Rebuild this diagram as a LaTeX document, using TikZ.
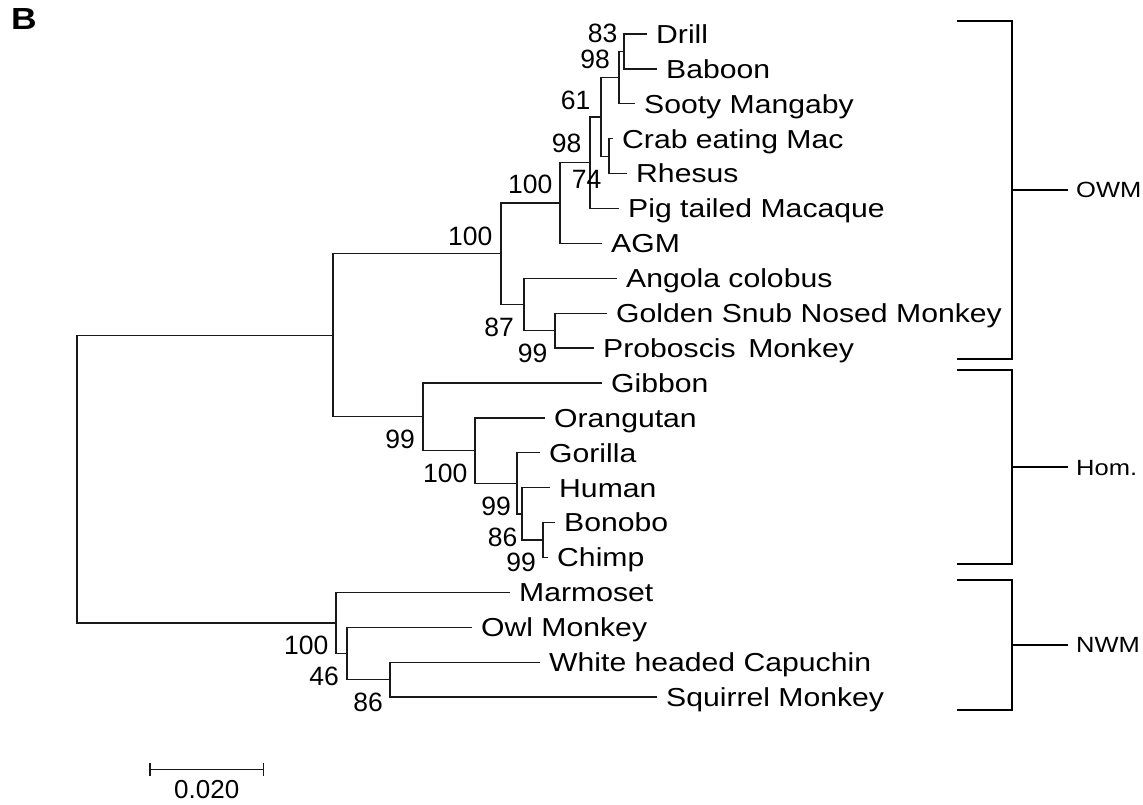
\documentclass[tikz,border=0pt]{standalone}
\usepackage{fontspec}
\setmainfont{Liberation Sans}
\newfontfamily\widefont{Liberation Sans}[FakeStretch=1.16]
\begin{document}
\begin{tikzpicture}[x=1pt,y=-1pt,
  branch/.style={line width=1.3pt, draw=black!90},
  brace/.style={line width=2.2pt, draw=black},
  taxon/.style={anchor=west, inner xsep=9pt, inner ysep=0pt, text height=18.6pt, text depth=0pt,
    font=\widefont\fontsize{26}{30}\selectfont},
  boot/.style={anchor=base east, inner sep=0pt, font=\fontsize{26.5}{30}\selectfont},
  group/.style={anchor=west, inner xsep=8pt, inner ysep=0pt, text height=15.8pt, text depth=0pt,
    font=\widefont\fontsize{22}{26}\selectfont}]
\useasboundingbox (0,0) rectangle (1143,804);

% panel letter
\node[anchor=base west, inner sep=0pt, font=\widefont\bfseries\fontsize{30.5}{32}\selectfont] (panel) at (11,29.3) {B};

% leaves (west anchor = branch tip)
\node[taxon] (drill)  at (647,34.0)  {Drill};
\node[taxon] (baboon) at (657,68.9)  {Baboon};
\node[taxon] (sooty)  at (635,103.8) {Sooty Mangaby};
\node[taxon] (crab)   at (613,138.7) {Crab eating Mac};
\node[taxon] (rhesus) at (627,173.6) {Rhesus};
\node[taxon] (pig)    at (619,208.5) {Pig tailed Macaque};
\node[taxon] (agm)    at (602,243.4) {AGM};
\node[taxon] (angola) at (617,278.3) {Angola colobus};
\node[taxon] (golden) at (607,313.2) {Golden Snub Nosed Monkey};
\node[taxon] (probos) at (594,348.1) {Proboscis\, Monkey};
\node[taxon] (gibbon) at (602,383.0) {Gibbon};
\node[taxon] (orang)  at (545,417.9) {Orangutan};
\node[taxon] (gorilla)at (540,452.8) {Gorilla};
\node[taxon] (human)  at (550,487.7) {Human};
\node[taxon] (bonobo) at (555,522.6) {Bonobo};
\node[taxon] (chimp)  at (548,557.5) {Chimp};
\node[taxon] (marmo)  at (510,592.4) {Marmoset};
\node[taxon] (owl)    at (472,627.3) {Owl Monkey};
\node[taxon] (capu)   at (540,662.2) {White headed Capuchin};
\node[taxon] (squir)  at (657,697.1) {Squirrel Monkey};

% internal nodes
\coordinate (n83)   at (624,51.5);
\coordinate (n98a)  at (619,77.6);
\coordinate (n74)   at (609,156.2);
\coordinate (n61)   at (601,116.9);
\coordinate (n98b)  at (590,162.7);
\coordinate (n100a) at (560,203.0);
\coordinate (n99c)  at (555,330.7);
\coordinate (n87)   at (524,304.5);
\coordinate (n100b) at (501,253.8);
\coordinate (nbc)   at (543,540.0);
\coordinate (n86h)  at (522,513.9);
\coordinate (n99e)  at (517,483.3);
\coordinate (n100h) at (475,450.6);
\coordinate (n99h)  at (423,416.8);
\coordinate (nOH)   at (333,335.3);
\coordinate (n86n)  at (390,679.6);
\coordinate (n46)   at (347,653.5);
\coordinate (n100n) at (336,623.0);
\coordinate (root)  at (77,479.1);

% branches
\draw[branch] (n83) |- (drill.west);
\draw[branch] (n83) |- (baboon.west);
\draw[branch] (n98a) |- (n83);
\draw[branch] (n98a) |- (sooty.west);
\draw[branch] (n74) |- (crab.west);
\draw[branch] (n74) |- (rhesus.west);
\draw[branch] (n61) |- (n98a);
\draw[branch] (n61) |- (n74);
\draw[branch] (n98b) |- (n61);
\draw[branch] (n98b) |- (pig.west);
\draw[branch] (n100a) |- (n98b);
\draw[branch] (n100a) |- (agm.west);
\draw[branch] (n99c) |- (golden.west);
\draw[branch] (n99c) |- (probos.west);
\draw[branch] (n87) |- (angola.west);
\draw[branch] (n87) |- (n99c);
\draw[branch] (n100b) |- (n100a);
\draw[branch] (n100b) |- (n87);
\draw[branch] (nbc) |- (bonobo.west);
\draw[branch] (nbc) |- (chimp.west);
\draw[branch] (n86h) |- (human.west);
\draw[branch] (n86h) |- (nbc);
\draw[branch] (n99e) |- (gorilla.west);
\draw[branch] (n99e) |- (n86h);
\draw[branch] (n100h) |- (orang.west);
\draw[branch] (n100h) |- (n99e);
\draw[branch] (n99h) |- (gibbon.west);
\draw[branch] (n99h) |- (n100h);
\draw[branch] (nOH) |- (n100b);
\draw[branch] (nOH) |- (n99h);
\draw[branch] (n86n) |- (capu.west);
\draw[branch] (n86n) |- (squir.west);
\draw[branch] (n46) |- (owl.west);
\draw[branch] (n46) |- (n86n);
\draw[branch] (n100n) |- (marmo.west);
\draw[branch] (n100n) |- (n46);
\draw[branch] (root) |- (nOH);
\draw[branch] (root) |- (n100n);

% bootstrap support values
\node[boot] (s83)   at (617.5,42.7)  {83};
\node[boot] (s98a)  at (610.0,68.3)  {98};
\node[boot] (s61)   at (590.5,109.3) {61};
\node[boot] (s98b)  at (581.5,152.7) {98};
\node[boot] (s74)   at (601.5,188.3) {74};
\node[boot] (s100a) at (552.5,193.3) {100};
\node[boot] (s100b) at (492.5,245.0) {100};
\node[boot] (s87)   at (514.0,336.7) {87};
\node[boot] (s99c)  at (547.5,362.7) {99};
\node[boot] (s99h)  at (415.0,448.3) {99};
\node[boot] (s100h) at (467.5,482.7) {100};
\node[boot] (s99e)  at (511.0,515.0) {99};
\node[boot] (s86h)  at (517.5,546.0) {86};
\node[boot] (s99bc) at (536.0,571.7) {99};
\node[boot] (s100n) at (328.5,654.0) {100};
\node[boot] (s46)   at (339.0,685.7) {46};
\node[boot] (s86n)  at (383.0,711.7) {86};

% group brackets
\node[group] (owm) at (1068,190.0) {OWM};
\node[group] (hom) at (1068,467.3) {Hom.};
\node[group] (nwm) at (1068,645.0) {NWM};
\coordinate (owmT) at (957,20.7);  \coordinate (owmB) at (957,359.3);
\coordinate (homT) at (957,370.0); \coordinate (homB) at (957,564.0);
\coordinate (nwmT) at (957,580.0); \coordinate (nwmB) at (957,710.0);
\coordinate (owmM) at (1011.7,190.0);
\coordinate (homM) at (1011.7,467.3);
\coordinate (nwmM) at (1011.7,645.0);
\draw[brace] (owmT) -| (owmM) |- (owmB);
\draw[brace] (owmM) -- (owm.west);
\draw[brace] (homT) -| (homM) |- (homB);
\draw[brace] (homM) -- (hom.west);
\draw[brace] (nwmT) -| (nwmM) |- (nwmB);
\draw[brace] (nwmM) -- (nwm.west);

% scale bar
\coordinate (sbL) at (150,769.5);
\coordinate (sbR) at (263.7,769.5);
\draw[branch] (sbL) -- (sbR);
\draw[branch] ([yshift=6.2pt]sbL) -- ([yshift=-6.2pt]sbL);
\draw[branch] ([yshift=6.2pt]sbR) -- ([yshift=-6.2pt]sbR);
\node[anchor=base, inner sep=0pt, font=\fontsize{26}{30}\selectfont] (sblabel) at (206.7,798.5) {0.020};
\end{tikzpicture}
\end{document}
